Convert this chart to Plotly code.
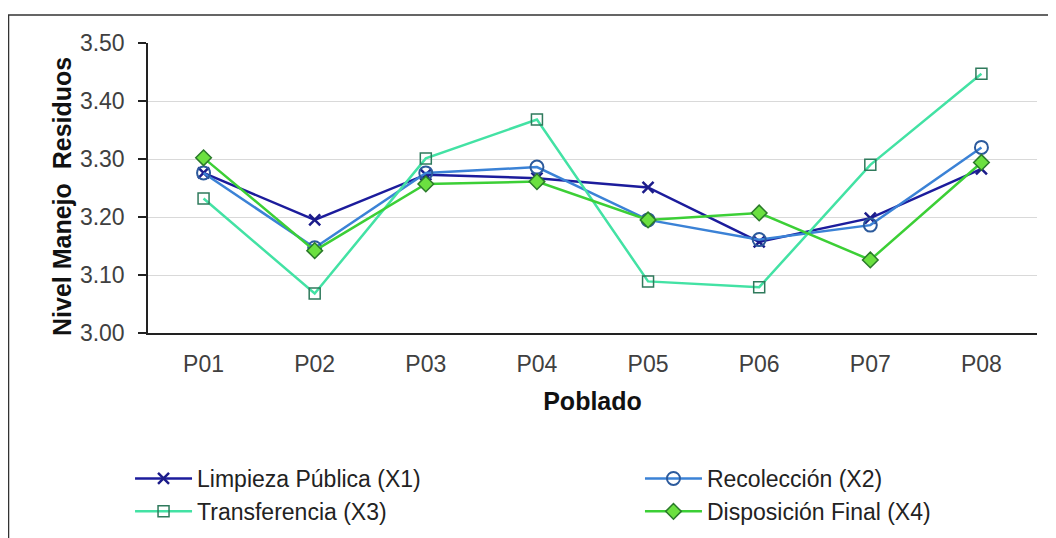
import plotly.graph_objects as go

poblados = ["P01", "P02", "P03", "P04", "P05", "P06", "P07", "P08"]
limpieza = [3.276, 3.195, 3.273, 3.267, 3.251, 3.157, 3.198, 3.283]
recoleccion = [3.276, 3.147, 3.276, 3.286, 3.195, 3.161, 3.186, 3.320]
transferencia = [3.232, 3.068, 3.301, 3.368, 3.089, 3.079, 3.290, 3.447]
disposicion = [3.302, 3.142, 3.257, 3.261, 3.195, 3.207, 3.126, 3.294]
y_ticks = [3.00, 3.10, 3.20, 3.30, 3.40, 3.50]

FONT = "Liberation Sans, Arial, sans-serif"

fig = go.Figure()
fig.add_trace(go.Scatter(
    x=poblados, y=limpieza, name="Limpieza Pública (X1)", mode="lines+markers",
    line=dict(color="#1c1c9c", width=2.5),
    marker=dict(symbol="x-thin", size=11, line=dict(color="#1c1c8a", width=2.5)),
    legend="legend"))
fig.add_trace(go.Scatter(
    x=poblados, y=recoleccion, name="Recolección (X2)", mode="lines+markers",
    line=dict(color="#3b82d6", width=2.5),
    marker=dict(symbol="circle-open", size=13, color="#2c5a9c", line=dict(width=2)),
    legend="legend2"))
fig.add_trace(go.Scatter(
    x=poblados, y=transferencia, name="Transferencia (X3)", mode="lines+markers",
    line=dict(color="#43e2a4", width=2.5),
    marker=dict(symbol="square-open", size=11, color="#2f7a5c", line=dict(width=1.5)),
    legend="legend"))
fig.add_trace(go.Scatter(
    x=poblados, y=disposicion, name="Disposición Final (X4)", mode="lines+markers",
    line=dict(color="#3ccf36", width=2.5),
    marker=dict(symbol="diamond", size=12, color="#6be040", line=dict(color="#2a7a2a", width=1.5)),
    legend="legend2"))

fig.update_layout(
    width=1048, height=530,
    margin=dict(l=140, r=19, t=35, b=205),
    paper_bgcolor="white", plot_bgcolor="white",
    font=dict(family=FONT, size=23, color="#404040"),
    xaxis=dict(
        type="category", range=[-0.5, 7.5],
        showline=True, linecolor="#222222", linewidth=1.5,
        showgrid=False, ticks="", zeroline=False,
        ticklabelstandoff=10, automargin=False,
        tickfont=dict(family=FONT, size=23, color="#404040"),
        title=dict(text="Poblado", font=dict(family=FONT, size=25, color="#111111", weight="bold"), standoff=16),
    ),
    yaxis=dict(
        range=[3.0, 3.5], tickvals=y_ticks, tickformat=".2f",
        showline=True, linecolor="#222222", linewidth=1.5,
        showgrid=True, gridcolor="#d9d9d9", gridwidth=1.2,
        ticks="outside", ticklen=8, tickcolor="#222222", tickwidth=1.5,
        ticklabelstandoff=9, zeroline=False, automargin=False,
        tickfont=dict(family=FONT, size=23, color="#404040"),
    ),
    legend=dict(
        x=-0.0202, xanchor="left", yref="container", y=0.0811, yanchor="middle",
        orientation="v", itemwidth=57, bgcolor="rgba(0,0,0,0)",
        font=dict(family=FONT, size=23, color="#222222"),
    ),
    legend2=dict(
        x=0.5534, xanchor="left", yref="container", y=0.0811, yanchor="middle",
        orientation="v", itemwidth=57, bgcolor="rgba(0,0,0,0)",
        font=dict(family=FONT, size=23, color="#222222"),
    ),
    showlegend=True,
)

fig.add_annotation(text="<b>Nivel Manejo  Residuos</b>", textangle=-90,
                   xref="paper", yref="paper", x=-0.0967, y=0.469,
                   xanchor="center", yanchor="middle", showarrow=False,
                   font=dict(family=FONT, size=25, color="#111111"))

fig.add_shape(type="rect", xref="paper", yref="paper",
              x0=-0.1569, x1=1.2, y0=-1.5, y1=1.0966,
              line=dict(color="#333333", width=1.5), layer="below")

fig.write_html("out.html")
